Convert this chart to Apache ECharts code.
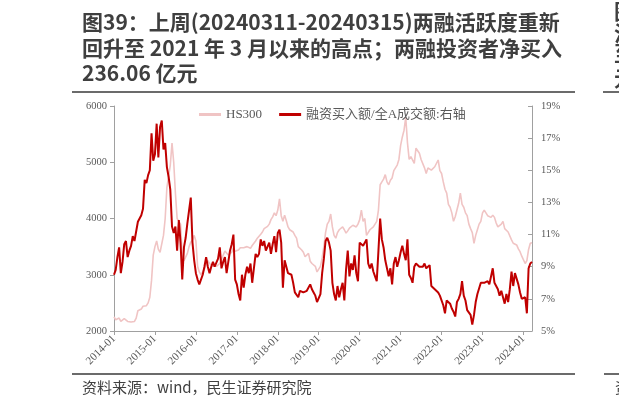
<!DOCTYPE html>
<html>
<head>
<meta charset="utf-8">
<script src="https://cdn.jsdelivr.net/npm/echarts@6/dist/echarts.min.js"></script>
<style>
html,body{margin:0;padding:0;background:#fff;}
#c{width:619px;height:408px;}
</style>
</head>
<body>
<div id="c"></div>
<script>
// Half-monthly observations (1st and 16th of each month), 2014-01 .. 2024-03
const hs300 = [
 2250,2200,2190,2230,2170,2150,2220,2240,2170,2150,2160,2150,2170,2230,2360,2380,2390,2440,2420,2450,2500,2600,2900,3350,
 3500,3600,3450,3400,3550,3700,4000,4550,4750,4950,5340,5000,4450,4000,3950,3900,3350,3250,3250,3380,3500,3580,3620,3700,
 3600,3150,3050,3000,3050,3100,3200,3250,3200,3180,3150,3120,3150,3170,3200,3230,3350,3420,3400,3350,3380,3400,3480,3420,
 3420,3440,3480,3500,3480,3470,3500,3480,3470,3520,3560,3600,3650,3680,3720,3760,3820,3850,3860,3900,3980,4030,4100,4050,
 4150,4350,4050,3950,4060,3960,3850,3800,3780,3760,3700,3650,3500,3480,3440,3400,3320,3350,3380,3240,3200,3230,3150,3050,
 3030,3150,3300,3500,3750,3900,3950,4080,3850,3700,3650,3750,3800,3820,3850,3800,3740,3780,3830,3860,3880,3900,3850,3900,
 3980,4150,3950,4000,3700,3700,3800,3830,3850,3880,3950,4150,4600,4650,4700,4780,4650,4600,4680,4720,4850,4900,4950,5050,
 5300,5450,5570,5800,5350,5050,5100,5130,4980,5250,5280,5160,5050,5040,4900,4800,4900,4920,4860,4880,4920,4950,5040,4850,
 4800,4650,4520,4450,4250,4200,4100,3950,4030,4150,4270,4450,4250,4200,4100,4050,3900,3820,3750,3560,3700,3800,3900,3950,
 4100,4150,4100,4050,4060,4020,4060,4020,3920,3850,3880,3900,3950,3820,3850,3760,3740,3620,3560,3560,3530,3460,3410,3330,
 3300,3200,3250,3450,3560,3570
];
const marginRatio = [
 8.5,8.8,9.6,10.2,8.6,9.3,10.4,10.6,9.6,10.0,10.3,10.9,10.6,10.5,11.8,12.0,12.2,12.6,14.4,14.2,14.7,15.0,17.3,15.6,
 16.0,17.9,15.8,17.7,18.1,16.3,16.7,15.2,14.6,13.8,11.5,11.1,11.5,10.0,11.9,10.5,8.2,10.2,10.8,11.7,12.5,13.3,10.5,9.4,
 8.6,8.2,7.9,8.0,8.5,9.0,9.6,9.0,8.6,9.0,9.3,9.0,8.9,9.5,10.2,8.9,9.3,9.6,8.6,9.3,10.0,10.4,11.0,8.2,
 7.9,7.3,6.9,8.5,7.7,8.5,9.0,8.6,9.2,8.0,8.1,9.8,9.6,9.8,10.7,10.3,10.6,10.0,9.9,10.5,9.8,10.4,10.9,9.9,
 11.1,11.3,10.5,7.7,9.4,9.0,8.6,8.7,8.5,8.0,7.4,7.3,7.1,7.5,7.6,7.4,7.3,7.5,7.6,7.9,7.6,7.4,7.2,6.8,
 6.7,7.3,8.6,9.5,10.6,10.8,10.5,10.0,8.0,7.3,6.9,7.8,7.1,7.6,8.0,6.9,8.8,10.0,8.4,9.2,8.8,9.7,8.6,8.1,
 10.5,10.6,10.3,10.5,10.7,9.2,8.9,9.2,8.7,8.4,8.1,10.0,12.0,10.7,10.2,9.4,8.9,8.4,8.9,7.9,9.2,9.6,9.0,9.4,
 9.9,10.3,9.8,9.4,10.7,8.5,8.3,8.0,9.0,9.2,9.1,9.0,9.1,9.0,9.2,8.9,9.0,9.1,7.8,7.7,7.6,7.5,7.4,7.2,
 7.1,6.6,6.1,6.9,6.8,6.7,6.4,6.2,5.9,6.8,7.0,7.3,8.1,7.2,6.9,6.3,6.2,6.0,5.4,6.0,6.8,7.3,7.2,8.0,
 8.1,8.0,7.9,8.1,7.9,7.8,8.9,8.0,7.8,7.6,7.2,7.5,7.1,6.7,7.3,6.8,7.6,8.7,7.8,8.6,8.5,7.9,7.4,7.0,
 7.0,7.1,6.1,8.9,9.2,9.3
];
const startYear = 2014;
const leftTicks = {min: 2000, max: 6000, step: 1000};
const rightTicks = {min: 5, max: 19, step: 2};   // percent
const legendNames = ['HS300', '融资买入额/全A成交额:右轴'];
const titleLines = [
  '图39：上周(20240311-20240315)两融活跃度重新',
  '回升至 2021 年 3 月以来的高点；两融投资者净买入',
  '236.06 亿元'
];
const sourceText = '资料来源：wind，民生证券研究院';

// x positions: fractional years (half-month steps)
const xs = hs300.map((_, i) => startYear + i / 24);
const xMax = xs[xs.length - 1];

const chart = echarts.init(document.getElementById('c'), null, {renderer: 'canvas'});
const serif = '"Liberation Serif", "Times New Roman", "Noto Sans CJK SC", serif';
const axisGray = '#a0a0a0';
const labelGray = '#595959';
const titleFont = 'bold 21px "Noto Sans CJK SC"';

const option = {
  animation: false,
  backgroundColor: '#ffffff',
  grid: {left: 114, right: 87, top: 106, bottom: 77, containLabel: false},
  legend: {
    left: 194, top: 103,
    itemWidth: 22, itemHeight: 3, itemGap: 17,
    icon: 'rect',
    textStyle: {fontFamily: serif, fontSize: 13, color: labelGray},
    data: legendNames
  },
  xAxis: {
    type: 'value', min: startYear, max: xMax, interval: 1,
    axisLine: {show: true, lineStyle: {color: axisGray}},
    axisTick: {show: true, length: 4, lineStyle: {color: axisGray}},
    splitLine: {show: false},
    axisLabel: {
      rotate: 45, fontFamily: serif, fontSize: 11, color: labelGray, margin: 6,
      showMaxLabel: false,
      formatter: v => Math.abs(v - Math.round(v)) < 1e-6 ? Math.round(v) + '-01' : ''
    }
  },
  yAxis: [
    {
      type: 'value', min: leftTicks.min, max: leftTicks.max, interval: leftTicks.step,
      axisLine: {show: true, lineStyle: {color: axisGray}},
      axisTick: {show: true, length: 4, lineStyle: {color: axisGray}},
      splitLine: {show: false},
      axisLabel: {fontFamily: serif, fontSize: 10.5, color: labelGray, margin: 7,
        formatter: v => String(v)}
    },
    {
      type: 'value', min: 0, max: rightTicks.max - rightTicks.min, interval: rightTicks.step,
      position: 'right',
      axisLine: {show: true, lineStyle: {color: axisGray}},
      axisTick: {show: true, inside: true, length: 4, lineStyle: {color: axisGray}},
      splitLine: {show: false},
      axisLabel: {fontFamily: serif, fontSize: 10.5, color: labelGray, margin: 9,
        formatter: v => (v + rightTicks.min) + '%'}
    }
  ],
  series: [
    {
      name: legendNames[0], type: 'line', yAxisIndex: 0, symbol: 'none',
      data: hs300.map((v, i) => [xs[i], v]),
      lineStyle: {color: '#f0c4c4', width: 1.6}, itemStyle: {color: '#f0c4c4'}, z: 2
    },
    {
      name: legendNames[1], type: 'line', yAxisIndex: 1, symbol: 'none',
      data: marginRatio.map((v, i) => [xs[i], v - rightTicks.min]),
      lineStyle: {color: '#c00000', width: 2}, itemStyle: {color: '#c00000'}, z: 3
    }
  ],
  graphic: [
    {type: 'text', left: 82, top: 12, style: {text: titleLines[0], font: titleFont, fill: '#3f3f3f'}},
    {type: 'text', left: 82, top: 38, style: {text: titleLines[1], font: titleFont, fill: '#3f3f3f'}},
    {type: 'text', left: 82, top: 63, style: {text: titleLines[2], font: titleFont, fill: '#3f3f3f'}},
    {type: 'rect', shape: {x: 72, y: 91, width: 503, height: 2}, style: {fill: '#6b6b6b'}},
    {type: 'rect', shape: {x: 603, y: 91, width: 16, height: 2}, style: {fill: '#6b6b6b'}},
    {type: 'rect', shape: {x: 72, y: 373, width: 503, height: 2}, style: {fill: '#6b6b6b'}},
    {type: 'rect', shape: {x: 604, y: 373, width: 15, height: 2}, style: {fill: '#6b6b6b'}},
    {type: 'text', x: 82, y: 380, style: {text: sourceText, font: '15px "Noto Sans CJK SC"', fill: '#404040'}},
    {type: 'text', x: 614, y: 1, style: {text: '图', font: titleFont, fill: '#3f3f3f'}},
    {type: 'text', x: 614, y: 23, style: {text: '沪', font: titleFont, fill: '#3f3f3f'}},
    {type: 'text', x: 614, y: 43, style: {text: '至', font: titleFont, fill: '#3f3f3f'}},
    {type: 'text', x: 614, y: 68, style: {text: '元', font: titleFont, fill: '#3f3f3f'}},
    {type: 'text', x: 615, y: 380, style: {text: '资', font: '15px "Noto Sans CJK SC"', fill: '#404040'}}
  ]
};
chart.setOption(option);
</script>
</body>
</html>
